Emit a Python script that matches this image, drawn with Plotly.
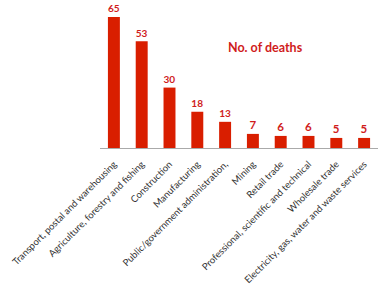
import plotly.graph_objects as go

categories = [
    "Transport, postal and warehousing",
    "Agriculture, forestry and fishing",
    "Construction",
    "Manufacturing",
    "Public/government administration,",
    "Mining",
    "Retail trade",
    "Professional, scientific and technical",
    "Wholesale trade",
    "Electricity, gas, water and waste services",
]
deaths = [65, 53, 30, 18, 13, 7, 6, 6, 5, 5]

fig = go.Figure(go.Bar(
    x=categories, y=deaths,
    marker=dict(color="#d91e00", line=dict(width=0)),
    text=[str(v) for v in deaths],
    textposition="outside",
    textfont=dict(family="Lato", size=11.5, color="#d01c1c", weight="bold"),
    cliponaxis=False,
))

fig.add_annotation(
    text="<b>No. of deaths</b>", xref="paper", yref="paper",
    x=0.455, y=0.695, xanchor="left", yanchor="middle", showarrow=False,
    font=dict(family="Lato", size=12.5, color="#d01c1c"),
)

fig.update_layout(
    width=380, height=289,
    margin=dict(l=100, r=2, t=4, b=141),
    paper_bgcolor="white", plot_bgcolor="white",
    bargap=0.57,
    showlegend=False,
    xaxis=dict(
        tickangle=-45, showline=True, linecolor="#aaaaaa", linewidth=1,
        ticks="", showgrid=False, ticklabelstandoff=6,
        tickfont=dict(family="Lato", size=9.5, color="#333333"),
    ),
    yaxis=dict(visible=False, range=[0, 71.5]),
)

fig.write_html("out.html")
